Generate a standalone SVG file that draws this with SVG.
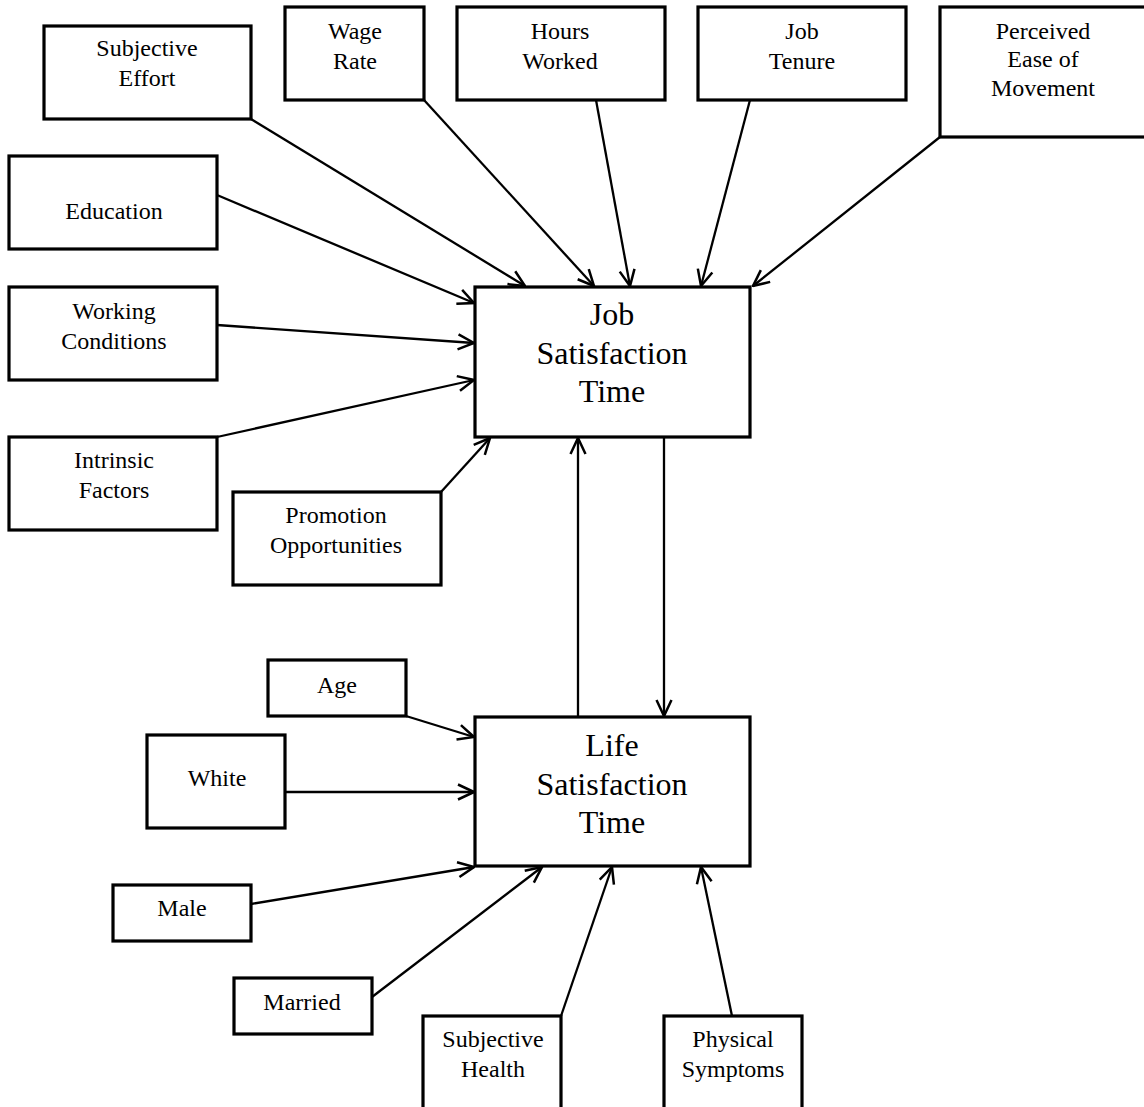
<svg xmlns="http://www.w3.org/2000/svg" width="1144" height="1107" viewBox="0 0 1144 1107">
<style>
.box{fill:#fff;stroke:#000;stroke-width:3.2}
.t{font-family:"Liberation Serif","Times New Roman",serif;font-size:24px;text-anchor:middle;fill:#000}
.big{font-size:32px}
.c{fill:none;stroke:#000;stroke-width:2.3;marker-end:url(#a)}
</style>
<defs>
<marker id="a" viewBox="0 0 18 18" refX="17" refY="9" markerWidth="18" markerHeight="18" markerUnits="userSpaceOnUse" orient="auto">
<path d="M1,1.5 L17,9 L1,16.5" fill="none" stroke="#000" stroke-width="2.5"/>
</marker>
</defs>
<rect width="1144" height="1107" fill="#fff"/>
<g id="connectors">
<line class="c" x1="251" y1="119" x2="525" y2="286"/>
<line class="c" x1="424" y1="100" x2="594" y2="286"/>
<line class="c" x1="596" y1="100" x2="630" y2="286"/>
<line class="c" x1="750" y1="100" x2="701" y2="286"/>
<line class="c" x1="940" y1="137" x2="753" y2="286"/>
<line class="c" x1="217" y1="195" x2="474" y2="303"/>
<line class="c" x1="217" y1="325" x2="474" y2="343"/>
<line class="c" x1="217" y1="437" x2="474" y2="380"/>
<line class="c" x1="441" y1="492" x2="490" y2="438"/>
<line class="c" x1="578" y1="717" x2="578" y2="438"/>
<line class="c" x1="664" y1="437" x2="664" y2="716"/>
<line class="c" x1="406" y1="716" x2="474" y2="737"/>
<line class="c" x1="285" y1="792" x2="474" y2="792"/>
<line class="c" x1="251" y1="904" x2="474" y2="867"/>
<line class="c" x1="372" y1="997" x2="542" y2="867"/>
<line class="c" x1="561" y1="1016" x2="612" y2="867"/>
<line class="c" x1="732" y1="1016" x2="701" y2="867"/>
</g>
<g id="subjective-effort"><rect class="box" x="44" y="26" width="207" height="93"/><text class="t" x="147" y="56">Subjective</text><text class="t" x="147" y="86">Effort</text></g>
<g id="wage-rate"><rect class="box" x="285" y="7" width="139" height="93"/><text class="t" x="355" y="39">Wage</text><text class="t" x="355" y="69">Rate</text></g>
<g id="hours-worked"><rect class="box" x="457" y="7" width="208" height="93"/><text class="t" x="560" y="39">Hours</text><text class="t" x="560" y="69">Worked</text></g>
<g id="job-tenure"><rect class="box" x="698" y="7" width="208" height="93"/><text class="t" x="802" y="39">Job</text><text class="t" x="802" y="69">Tenure</text></g>
<g id="perceived-ease"><rect class="box" x="940" y="7" width="210" height="130"/><text class="t" x="1043" y="39">Perceived</text><text class="t" x="1043" y="67">Ease of</text><text class="t" x="1043" y="96">Movement</text></g>
<g id="education"><rect class="box" x="9" y="156" width="208" height="93"/><text class="t" x="114" y="219">Education</text></g>
<g id="working-conditions"><rect class="box" x="9" y="287" width="208" height="93"/><text class="t" x="114" y="319">Working</text><text class="t" x="114" y="349">Conditions</text></g>
<g id="intrinsic-factors"><rect class="box" x="9" y="437" width="208" height="93"/><text class="t" x="114" y="468">Intrinsic</text><text class="t" x="114" y="498">Factors</text></g>
<g id="promotion"><rect class="box" x="233" y="492" width="208" height="93"/><text class="t" x="336" y="523">Promotion</text><text class="t" x="336" y="553">Opportunities</text></g>
<g id="job-satisfaction"><rect class="box" x="475" y="287" width="275" height="150"/><text class="t big" x="612" y="325">Job</text><text class="t big" x="612" y="364">Satisfaction</text><text class="t big" x="612" y="402">Time</text></g>
<g id="life-satisfaction"><rect class="box" x="475" y="717" width="275" height="149"/><text class="t big" x="612" y="756">Life</text><text class="t big" x="612" y="795">Satisfaction</text><text class="t big" x="612" y="833">Time</text></g>
<g id="age"><rect class="box" x="268" y="660" width="138" height="56"/><text class="t" x="337" y="693">Age</text></g>
<g id="white"><rect class="box" x="147" y="735" width="138" height="93"/><text class="t" x="217" y="786">White</text></g>
<g id="male"><rect class="box" x="113" y="885" width="138" height="56"/><text class="t" x="182" y="916">Male</text></g>
<g id="married"><rect class="box" x="234" y="978" width="138" height="56"/><text class="t" x="302" y="1010">Married</text></g>
<g id="subjective-health"><rect class="box" x="423" y="1016" width="138" height="96"/><text class="t" x="493" y="1047">Subjective</text><text class="t" x="493" y="1077">Health</text></g>
<g id="physical-symptoms"><rect class="box" x="664" y="1016" width="138" height="96"/><text class="t" x="733" y="1047">Physical</text><text class="t" x="733" y="1077">Symptoms</text></g>
</svg>
